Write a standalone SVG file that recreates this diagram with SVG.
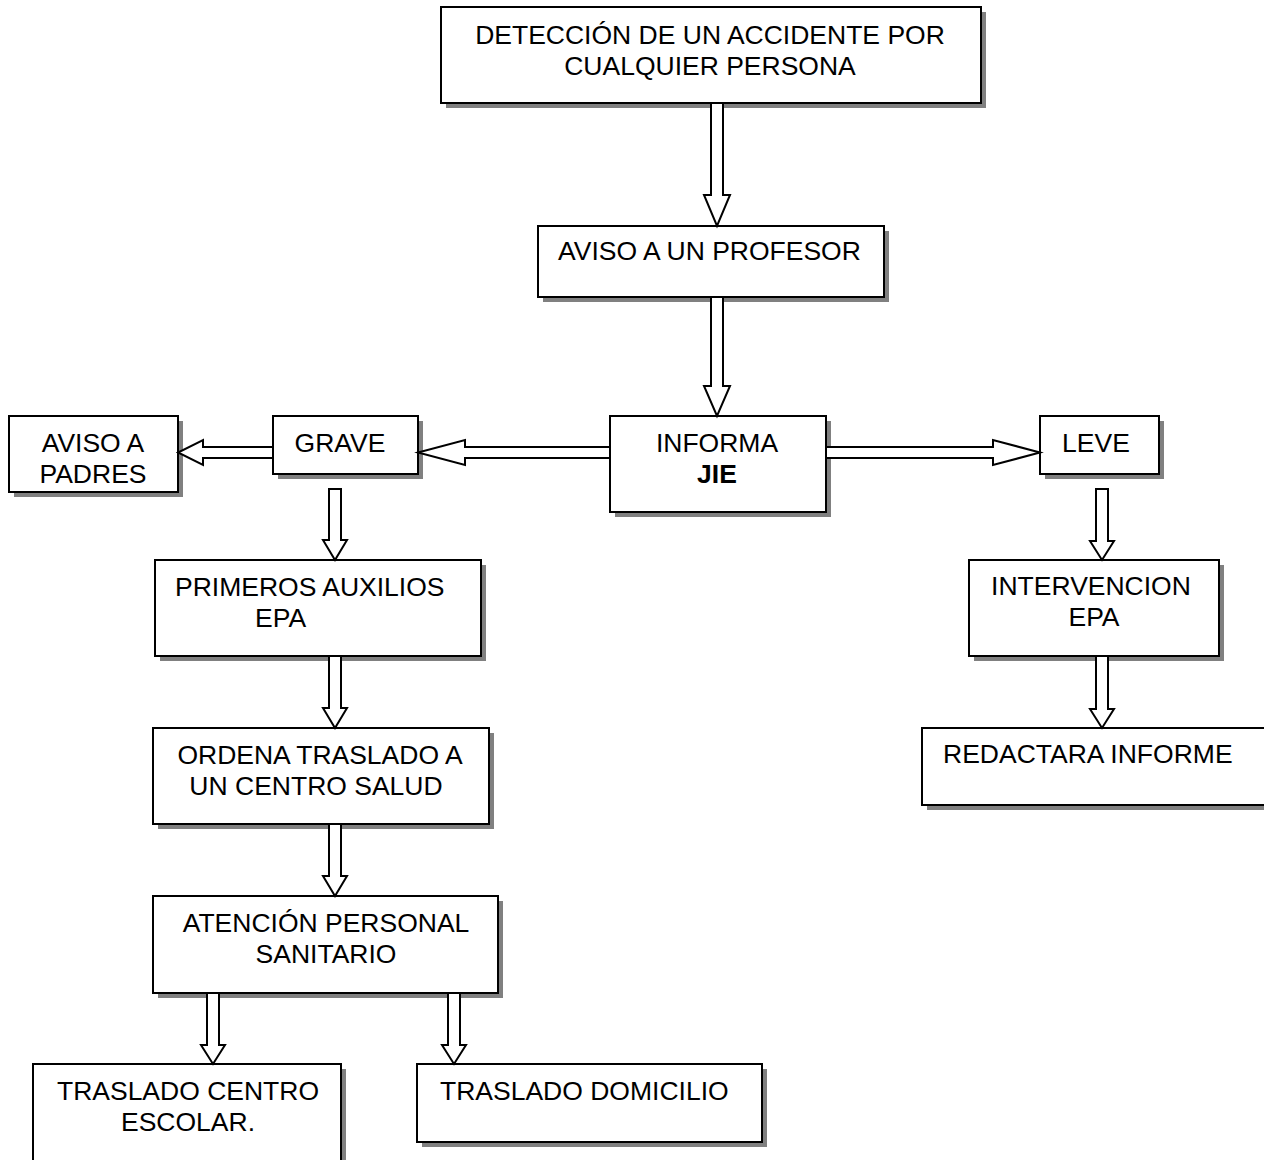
<svg xmlns="http://www.w3.org/2000/svg" width="1264" height="1160" viewBox="0 0 1264 1160">
<defs>
<style>
.sh{fill:#808080;stroke:none}
.bx{fill:#fff;stroke:#000;stroke-width:2}
.t{font-family:"Liberation Sans",Arial,sans-serif;font-size:26.5px;fill:#000}
.c{text-anchor:middle}
.b{font-weight:bold}
.ar{fill:#fff;stroke:#000;stroke-width:2;stroke-linejoin:miter}
</style>
</defs>
<rect width="1264" height="1160" fill="#fff"/>
<g id="n1"><rect class="sh" x="446" y="12" width="540" height="96"/><rect class="bx" x="441" y="7" width="540" height="96"/>
<text class="t c" x="710" y="44">DETECCIÓN DE UN ACCIDENTE POR</text><text class="t c" x="710" y="75">CUALQUIER PERSONA</text></g>
<g id="n2"><rect class="sh" x="543" y="231" width="346" height="71"/><rect class="bx" x="538" y="226" width="346" height="71"/>
<text class="t" x="558" y="260">AVISO A UN PROFESOR</text></g>
<g id="n3"><rect class="sh" x="615" y="421" width="216" height="96"/><rect class="bx" x="610" y="416" width="216" height="96"/>
<text class="t c" x="717" y="452">INFORMA</text><text class="t c b" x="717" y="483">JIE</text></g>
<g id="n4"><rect class="sh" x="278" y="421" width="145" height="58"/><rect class="bx" x="273" y="416" width="145" height="58"/>
<text class="t c" x="340" y="452">GRAVE</text></g>
<g id="n5"><rect class="sh" x="14" y="421" width="169" height="76"/><rect class="bx" x="9" y="416" width="169" height="76"/>
<text class="t c" x="93" y="452">AVISO A</text><text class="t c" x="93" y="483">PADRES</text></g>
<g id="n6"><rect class="sh" x="1045" y="421" width="119" height="58"/><rect class="bx" x="1040" y="416" width="119" height="58"/>
<text class="t c" x="1096" y="452">LEVE</text></g>
<g id="n7"><rect class="sh" x="160" y="565" width="326" height="96"/><rect class="bx" x="155" y="560" width="326" height="96"/>
<text class="t" x="175" y="596">PRIMEROS AUXILIOS</text><text class="t" x="255" y="627">EPA</text></g>
<g id="n8"><rect class="sh" x="158" y="733" width="336" height="96"/><rect class="bx" x="153" y="728" width="336" height="96"/>
<text class="t c" x="320" y="764">ORDENA TRASLADO A</text><text class="t c" x="316" y="795">UN CENTRO SALUD</text></g>
<g id="n9"><rect class="sh" x="158" y="901" width="345" height="97"/><rect class="bx" x="153" y="896" width="345" height="97"/>
<text class="t c" x="326" y="932">ATENCIÓN PERSONAL</text><text class="t c" x="326" y="963">SANITARIO</text></g>
<g id="n10"><rect class="sh" x="38" y="1069" width="308" height="110"/><rect class="bx" x="33" y="1064" width="308" height="110"/>
<text class="t c" x="188" y="1100">TRASLADO CENTRO</text><text class="t c" x="188" y="1131">ESCOLAR.</text></g>
<g id="n11"><rect class="sh" x="422" y="1069" width="345" height="78"/><rect class="bx" x="417" y="1064" width="345" height="78"/>
<text class="t" x="440" y="1100">TRASLADO DOMICILIO</text></g>
<g id="n12"><rect class="sh" x="974" y="565" width="250" height="96"/><rect class="bx" x="969" y="560" width="250" height="96"/>
<text class="t c" x="1091" y="595">INTERVENCION</text><text class="t c" x="1094" y="626">EPA</text></g>
<g id="n13"><rect class="sh" x="927" y="733" width="348" height="77"/><rect class="bx" x="922" y="728" width="348" height="77"/>
<text class="t" x="943" y="763">REDACTARA INFORME</text></g>
<g id="connectors">
<path class="ar" d="M711,103 L723,103 L723,195 L730,195 L717,226 L704,195 L711,195 Z"/>
<path class="ar" d="M711,297 L723,297 L723,386 L730,386 L717,416 L704,386 L711,386 Z"/>
<path class="ar" d="M610,447 L465,447 L465,440 L418,452.5 L465,465 L465,458 L610,458 Z"/>
<path class="ar" d="M273,447 L203,447 L203,440 L178,452.5 L203,465 L203,458 L273,458 Z"/>
<path class="ar" d="M826,447 L993,447 L993,440 L1040,452.5 L993,465 L993,458 L826,458 Z"/>
<path class="ar" d="M329,489 L341,489 L341,540 L347,540 L335,560 L323,540 L329,540 Z"/>
<path class="ar" d="M329,656 L341,656 L341,708 L347,708 L335,728 L323,708 L329,708 Z"/>
<path class="ar" d="M329,824 L341,824 L341,876 L347,876 L335,896 L323,876 L329,876 Z"/>
<path class="ar" d="M207,993 L219,993 L219,1045 L225,1045 L213,1064 L201,1045 L207,1045 Z"/>
<path class="ar" d="M448,993 L460,993 L460,1045 L466,1045 L454,1064 L442,1045 L448,1045 Z"/>
<path class="ar" d="M1096,489 L1108,489 L1108,541 L1114,541 L1102,560 L1090,541 L1096,541 Z"/>
<path class="ar" d="M1096,656 L1108,656 L1108,709 L1114,709 L1102,728 L1090,709 L1096,709 Z"/>
</g>
</svg>
